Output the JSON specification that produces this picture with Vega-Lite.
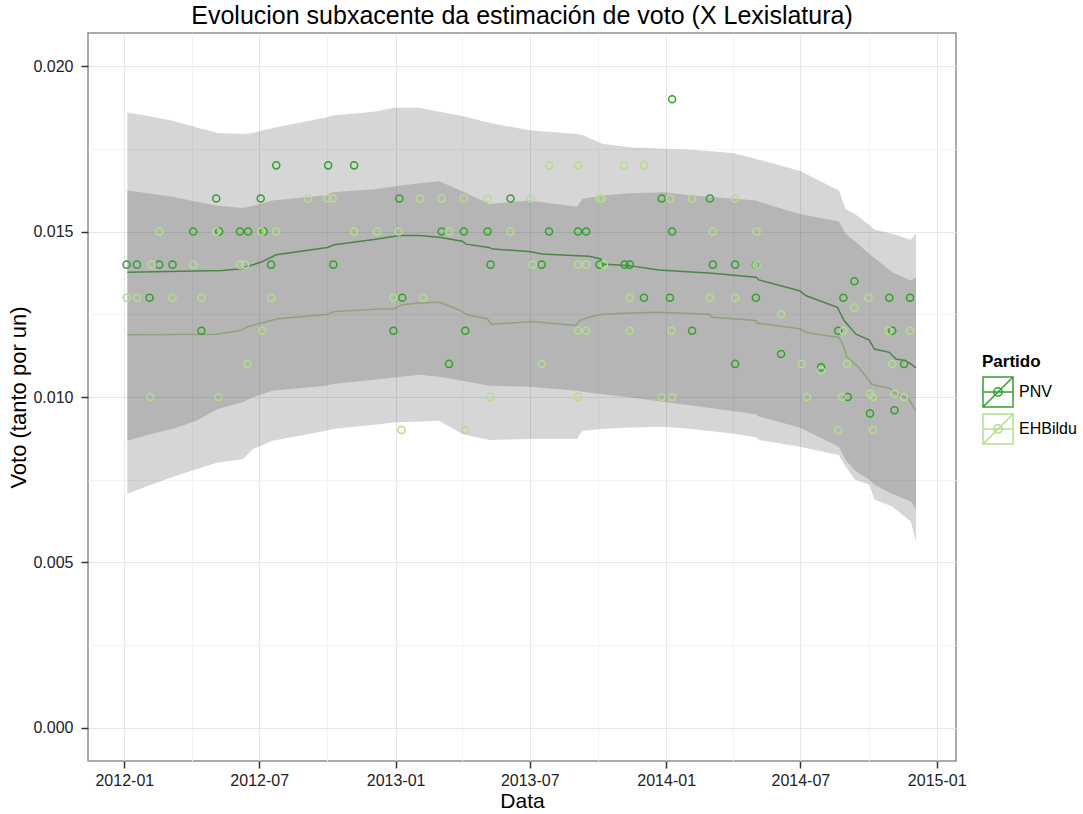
{
  "$schema": "https://vega.github.io/schema/vega-lite/v6.json",
  "width": 868,
  "height": 728,
  "autosize": {"type": "none"},
  "padding": {"left": 88, "top": 33, "right": 127, "bottom": 53},
  "background": "white",
  "config": {
    "font": "Liberation Sans",
    "view": {"stroke": "#8f8f8f", "strokeWidth": 1.5}
  },
  "title": {
    "text": "Evolucion subxacente da estimación de voto (X Lexislatura)",
    "fontSize": 25,
    "font": "Liberation Sans",
    "fontWeight": "normal",
    "color": "#000000",
    "anchor": "middle",
    "baseline": "alphabetic",
    "offset": -16
  },
  "datasets": {
    "pts": [
      {"Partido": "PNV", "date": "2012-01-04", "v": 0.014},
      {"Partido": "PNV", "date": "2012-01-18", "v": 0.014},
      {"Partido": "PNV", "date": "2012-02-04", "v": 0.013},
      {"Partido": "PNV", "date": "2012-02-17", "v": 0.014},
      {"Partido": "PNV", "date": "2012-03-06", "v": 0.014},
      {"Partido": "PNV", "date": "2012-04-03", "v": 0.015},
      {"Partido": "PNV", "date": "2012-04-14", "v": 0.012},
      {"Partido": "PNV", "date": "2012-05-04", "v": 0.016},
      {"Partido": "PNV", "date": "2012-05-08", "v": 0.015},
      {"Partido": "PNV", "date": "2012-06-05", "v": 0.015},
      {"Partido": "PNV", "date": "2012-06-16", "v": 0.015},
      {"Partido": "PNV", "date": "2012-07-03", "v": 0.016},
      {"Partido": "PNV", "date": "2012-07-07", "v": 0.015},
      {"Partido": "PNV", "date": "2012-07-17", "v": 0.014},
      {"Partido": "PNV", "date": "2012-07-24", "v": 0.017},
      {"Partido": "PNV", "date": "2012-10-02", "v": 0.017},
      {"Partido": "PNV", "date": "2012-10-09", "v": 0.014},
      {"Partido": "PNV", "date": "2012-11-06", "v": 0.017},
      {"Partido": "PNV", "date": "2012-12-29", "v": 0.012},
      {"Partido": "PNV", "date": "2013-01-06", "v": 0.016},
      {"Partido": "PNV", "date": "2013-01-10", "v": 0.013},
      {"Partido": "PNV", "date": "2013-03-04", "v": 0.015},
      {"Partido": "PNV", "date": "2013-03-14", "v": 0.011},
      {"Partido": "PNV", "date": "2013-04-03", "v": 0.015},
      {"Partido": "PNV", "date": "2013-04-05", "v": 0.012},
      {"Partido": "PNV", "date": "2013-05-05", "v": 0.015},
      {"Partido": "PNV", "date": "2013-05-09", "v": 0.014},
      {"Partido": "PNV", "date": "2013-06-05", "v": 0.016},
      {"Partido": "PNV", "date": "2013-07-17", "v": 0.014},
      {"Partido": "PNV", "date": "2013-07-27", "v": 0.015},
      {"Partido": "PNV", "date": "2013-09-04", "v": 0.015},
      {"Partido": "PNV", "date": "2013-09-15", "v": 0.015},
      {"Partido": "PNV", "date": "2013-10-03", "v": 0.014},
      {"Partido": "PNV", "date": "2013-11-06", "v": 0.014},
      {"Partido": "PNV", "date": "2013-11-13", "v": 0.014},
      {"Partido": "PNV", "date": "2013-12-02", "v": 0.013},
      {"Partido": "PNV", "date": "2013-12-26", "v": 0.016},
      {"Partido": "PNV", "date": "2014-01-06", "v": 0.013},
      {"Partido": "PNV", "date": "2014-01-09", "v": 0.015},
      {"Partido": "PNV", "date": "2014-01-09", "v": 0.019},
      {"Partido": "PNV", "date": "2014-02-05", "v": 0.012},
      {"Partido": "PNV", "date": "2014-03-01", "v": 0.016},
      {"Partido": "PNV", "date": "2014-03-05", "v": 0.014},
      {"Partido": "PNV", "date": "2014-04-04", "v": 0.014},
      {"Partido": "PNV", "date": "2014-04-04", "v": 0.011},
      {"Partido": "PNV", "date": "2014-05-02", "v": 0.013},
      {"Partido": "PNV", "date": "2014-05-02", "v": 0.014},
      {"Partido": "PNV", "date": "2014-06-05", "v": 0.0113},
      {"Partido": "PNV", "date": "2014-07-29", "v": 0.0109},
      {"Partido": "PNV", "date": "2014-08-21", "v": 0.012},
      {"Partido": "PNV", "date": "2014-08-28", "v": 0.013},
      {"Partido": "PNV", "date": "2014-09-03", "v": 0.010},
      {"Partido": "PNV", "date": "2014-09-12", "v": 0.0135},
      {"Partido": "PNV", "date": "2014-10-03", "v": 0.0095},
      {"Partido": "PNV", "date": "2014-10-29", "v": 0.013},
      {"Partido": "PNV", "date": "2014-11-02", "v": 0.012},
      {"Partido": "PNV", "date": "2014-11-05", "v": 0.0096},
      {"Partido": "PNV", "date": "2014-11-18", "v": 0.011},
      {"Partido": "PNV", "date": "2014-11-26", "v": 0.013},
      {"Partido": "EHBildu", "date": "2012-01-04", "v": 0.013},
      {"Partido": "EHBildu", "date": "2012-01-18", "v": 0.013},
      {"Partido": "EHBildu", "date": "2012-02-05", "v": 0.010},
      {"Partido": "EHBildu", "date": "2012-02-07", "v": 0.014},
      {"Partido": "EHBildu", "date": "2012-02-17", "v": 0.015},
      {"Partido": "EHBildu", "date": "2012-03-06", "v": 0.013},
      {"Partido": "EHBildu", "date": "2012-04-03", "v": 0.014},
      {"Partido": "EHBildu", "date": "2012-04-14", "v": 0.013},
      {"Partido": "EHBildu", "date": "2012-05-04", "v": 0.015},
      {"Partido": "EHBildu", "date": "2012-05-07", "v": 0.010},
      {"Partido": "EHBildu", "date": "2012-06-05", "v": 0.014},
      {"Partido": "EHBildu", "date": "2012-06-12", "v": 0.014},
      {"Partido": "EHBildu", "date": "2012-06-15", "v": 0.011},
      {"Partido": "EHBildu", "date": "2012-07-04", "v": 0.015},
      {"Partido": "EHBildu", "date": "2012-07-05", "v": 0.012},
      {"Partido": "EHBildu", "date": "2012-07-17", "v": 0.013},
      {"Partido": "EHBildu", "date": "2012-07-24", "v": 0.015},
      {"Partido": "EHBildu", "date": "2012-09-05", "v": 0.016},
      {"Partido": "EHBildu", "date": "2012-10-01", "v": 0.016},
      {"Partido": "EHBildu", "date": "2012-10-08", "v": 0.016},
      {"Partido": "EHBildu", "date": "2012-11-06", "v": 0.015},
      {"Partido": "EHBildu", "date": "2012-12-07", "v": 0.015},
      {"Partido": "EHBildu", "date": "2012-12-29", "v": 0.013},
      {"Partido": "EHBildu", "date": "2013-01-05", "v": 0.015},
      {"Partido": "EHBildu", "date": "2013-01-09", "v": 0.009},
      {"Partido": "EHBildu", "date": "2013-02-03", "v": 0.016},
      {"Partido": "EHBildu", "date": "2013-02-07", "v": 0.013},
      {"Partido": "EHBildu", "date": "2013-03-04", "v": 0.016},
      {"Partido": "EHBildu", "date": "2013-03-14", "v": 0.015},
      {"Partido": "EHBildu", "date": "2013-04-03", "v": 0.016},
      {"Partido": "EHBildu", "date": "2013-04-05", "v": 0.009},
      {"Partido": "EHBildu", "date": "2013-05-05", "v": 0.016},
      {"Partido": "EHBildu", "date": "2013-05-09", "v": 0.010},
      {"Partido": "EHBildu", "date": "2013-06-05", "v": 0.015},
      {"Partido": "EHBildu", "date": "2013-07-02", "v": 0.016},
      {"Partido": "EHBildu", "date": "2013-07-05", "v": 0.014},
      {"Partido": "EHBildu", "date": "2013-07-17", "v": 0.011},
      {"Partido": "EHBildu", "date": "2013-07-27", "v": 0.017},
      {"Partido": "EHBildu", "date": "2013-09-04", "v": 0.017},
      {"Partido": "EHBildu", "date": "2013-09-04", "v": 0.014},
      {"Partido": "EHBildu", "date": "2013-09-04", "v": 0.012},
      {"Partido": "EHBildu", "date": "2013-09-04", "v": 0.010},
      {"Partido": "EHBildu", "date": "2013-09-15", "v": 0.014},
      {"Partido": "EHBildu", "date": "2013-09-15", "v": 0.012},
      {"Partido": "EHBildu", "date": "2013-10-03", "v": 0.016},
      {"Partido": "EHBildu", "date": "2013-10-06", "v": 0.016},
      {"Partido": "EHBildu", "date": "2013-10-09", "v": 0.014},
      {"Partido": "EHBildu", "date": "2013-11-05", "v": 0.017},
      {"Partido": "EHBildu", "date": "2013-11-13", "v": 0.013},
      {"Partido": "EHBildu", "date": "2013-11-13", "v": 0.012},
      {"Partido": "EHBildu", "date": "2013-12-02", "v": 0.017},
      {"Partido": "EHBildu", "date": "2013-12-26", "v": 0.010},
      {"Partido": "EHBildu", "date": "2014-01-06", "v": 0.016},
      {"Partido": "EHBildu", "date": "2014-01-08", "v": 0.012},
      {"Partido": "EHBildu", "date": "2014-01-09", "v": 0.010},
      {"Partido": "EHBildu", "date": "2014-02-05", "v": 0.016},
      {"Partido": "EHBildu", "date": "2014-03-01", "v": 0.013},
      {"Partido": "EHBildu", "date": "2014-03-05", "v": 0.015},
      {"Partido": "EHBildu", "date": "2014-04-04", "v": 0.016},
      {"Partido": "EHBildu", "date": "2014-04-04", "v": 0.013},
      {"Partido": "EHBildu", "date": "2014-05-03", "v": 0.015},
      {"Partido": "EHBildu", "date": "2014-05-03", "v": 0.014},
      {"Partido": "EHBildu", "date": "2014-06-05", "v": 0.0125},
      {"Partido": "EHBildu", "date": "2014-07-03", "v": 0.011},
      {"Partido": "EHBildu", "date": "2014-07-10", "v": 0.010},
      {"Partido": "EHBildu", "date": "2014-07-29", "v": 0.0108},
      {"Partido": "EHBildu", "date": "2014-08-21", "v": 0.009},
      {"Partido": "EHBildu", "date": "2014-08-26", "v": 0.010},
      {"Partido": "EHBildu", "date": "2014-08-28", "v": 0.012},
      {"Partido": "EHBildu", "date": "2014-09-02", "v": 0.011},
      {"Partido": "EHBildu", "date": "2014-09-12", "v": 0.0127},
      {"Partido": "EHBildu", "date": "2014-10-01", "v": 0.013},
      {"Partido": "EHBildu", "date": "2014-10-03", "v": 0.0101},
      {"Partido": "EHBildu", "date": "2014-10-07", "v": 0.010},
      {"Partido": "EHBildu", "date": "2014-10-07", "v": 0.009},
      {"Partido": "EHBildu", "date": "2014-10-28", "v": 0.012},
      {"Partido": "EHBildu", "date": "2014-11-02", "v": 0.011},
      {"Partido": "EHBildu", "date": "2014-11-05", "v": 0.0101},
      {"Partido": "EHBildu", "date": "2014-11-18", "v": 0.010},
      {"Partido": "EHBildu", "date": "2014-11-26", "v": 0.012}
    ],
    "lines": [
      {"Partido": "PNV", "date": "2012-01-05", "v": 0.01377},
      {"Partido": "PNV", "date": "2012-05-12", "v": 0.01382},
      {"Partido": "PNV", "date": "2012-06-04", "v": 0.01387},
      {"Partido": "PNV", "date": "2012-07-03", "v": 0.01407},
      {"Partido": "PNV", "date": "2012-07-24", "v": 0.0143},
      {"Partido": "PNV", "date": "2012-10-01", "v": 0.01452},
      {"Partido": "PNV", "date": "2012-10-10", "v": 0.0146},
      {"Partido": "PNV", "date": "2012-12-03", "v": 0.01476},
      {"Partido": "PNV", "date": "2013-01-06", "v": 0.01488},
      {"Partido": "PNV", "date": "2013-02-02", "v": 0.01488},
      {"Partido": "PNV", "date": "2013-03-01", "v": 0.01483},
      {"Partido": "PNV", "date": "2013-04-01", "v": 0.01471},
      {"Partido": "PNV", "date": "2013-04-06", "v": 0.01462},
      {"Partido": "PNV", "date": "2013-05-07", "v": 0.01452},
      {"Partido": "PNV", "date": "2013-05-12", "v": 0.01447},
      {"Partido": "PNV", "date": "2013-06-30", "v": 0.0144},
      {"Partido": "PNV", "date": "2013-07-18", "v": 0.01432},
      {"Partido": "PNV", "date": "2013-09-03", "v": 0.01427},
      {"Partido": "PNV", "date": "2013-09-19", "v": 0.01425},
      {"Partido": "PNV", "date": "2013-10-05", "v": 0.01417},
      {"Partido": "PNV", "date": "2013-10-07", "v": 0.01402},
      {"Partido": "PNV", "date": "2013-11-12", "v": 0.01397},
      {"Partido": "PNV", "date": "2013-12-22", "v": 0.01384},
      {"Partido": "PNV", "date": "2014-03-04", "v": 0.01374},
      {"Partido": "PNV", "date": "2014-05-02", "v": 0.01362},
      {"Partido": "PNV", "date": "2014-05-06", "v": 0.01354},
      {"Partido": "PNV", "date": "2014-06-30", "v": 0.01321},
      {"Partido": "PNV", "date": "2014-07-09", "v": 0.01306},
      {"Partido": "PNV", "date": "2014-08-20", "v": 0.01271},
      {"Partido": "PNV", "date": "2014-08-29", "v": 0.01231},
      {"Partido": "PNV", "date": "2014-09-14", "v": 0.0119},
      {"Partido": "PNV", "date": "2014-10-02", "v": 0.01172},
      {"Partido": "PNV", "date": "2014-10-09", "v": 0.01145},
      {"Partido": "PNV", "date": "2014-10-29", "v": 0.01135},
      {"Partido": "PNV", "date": "2014-11-07", "v": 0.01115},
      {"Partido": "PNV", "date": "2014-11-20", "v": 0.0111},
      {"Partido": "PNV", "date": "2014-11-27", "v": 0.011},
      {"Partido": "PNV", "date": "2014-12-04", "v": 0.01088},
      {"Partido": "EHBildu", "date": "2012-01-05", "v": 0.01188},
      {"Partido": "EHBildu", "date": "2012-05-04", "v": 0.0119},
      {"Partido": "EHBildu", "date": "2012-06-04", "v": 0.012},
      {"Partido": "EHBildu", "date": "2012-06-16", "v": 0.01213},
      {"Partido": "EHBildu", "date": "2012-07-03", "v": 0.01223},
      {"Partido": "EHBildu", "date": "2012-07-24", "v": 0.01236},
      {"Partido": "EHBildu", "date": "2012-10-01", "v": 0.0125},
      {"Partido": "EHBildu", "date": "2012-10-10", "v": 0.01258},
      {"Partido": "EHBildu", "date": "2012-12-10", "v": 0.01266},
      {"Partido": "EHBildu", "date": "2012-12-30", "v": 0.01266},
      {"Partido": "EHBildu", "date": "2013-01-10", "v": 0.01279},
      {"Partido": "EHBildu", "date": "2013-02-02", "v": 0.01284},
      {"Partido": "EHBildu", "date": "2013-03-01", "v": 0.01286},
      {"Partido": "EHBildu", "date": "2013-03-30", "v": 0.01261},
      {"Partido": "EHBildu", "date": "2013-04-06", "v": 0.0125},
      {"Partido": "EHBildu", "date": "2013-05-05", "v": 0.01236},
      {"Partido": "EHBildu", "date": "2013-05-10", "v": 0.0122},
      {"Partido": "EHBildu", "date": "2013-07-05", "v": 0.01228},
      {"Partido": "EHBildu", "date": "2013-09-01", "v": 0.01216},
      {"Partido": "EHBildu", "date": "2013-09-06", "v": 0.01231},
      {"Partido": "EHBildu", "date": "2013-09-19", "v": 0.01241},
      {"Partido": "EHBildu", "date": "2013-10-07", "v": 0.0125},
      {"Partido": "EHBildu", "date": "2013-11-12", "v": 0.01254},
      {"Partido": "EHBildu", "date": "2013-12-22", "v": 0.01256},
      {"Partido": "EHBildu", "date": "2014-02-28", "v": 0.0125},
      {"Partido": "EHBildu", "date": "2014-03-04", "v": 0.01241},
      {"Partido": "EHBildu", "date": "2014-05-02", "v": 0.01231},
      {"Partido": "EHBildu", "date": "2014-05-04", "v": 0.01223},
      {"Partido": "EHBildu", "date": "2014-06-30", "v": 0.01206},
      {"Partido": "EHBildu", "date": "2014-07-09", "v": 0.01195},
      {"Partido": "EHBildu", "date": "2014-08-22", "v": 0.0118},
      {"Partido": "EHBildu", "date": "2014-08-27", "v": 0.0116},
      {"Partido": "EHBildu", "date": "2014-09-02", "v": 0.0112},
      {"Partido": "EHBildu", "date": "2014-09-18", "v": 0.01089},
      {"Partido": "EHBildu", "date": "2014-10-06", "v": 0.01037},
      {"Partido": "EHBildu", "date": "2014-10-29", "v": 0.01027},
      {"Partido": "EHBildu", "date": "2014-11-04", "v": 0.01014},
      {"Partido": "EHBildu", "date": "2014-11-24", "v": 0.00994},
      {"Partido": "EHBildu", "date": "2014-12-04", "v": 0.00959}
    ],
    "bands": [
      {"Partido": "PNV", "date": "2012-01-05", "lo": 0.00868, "hi": 0.0186},
      {"Partido": "PNV", "date": "2012-02-06", "lo": 0.00888, "hi": 0.01848},
      {"Partido": "PNV", "date": "2012-03-06", "lo": 0.00903, "hi": 0.01835},
      {"Partido": "PNV", "date": "2012-04-07", "lo": 0.00928, "hi": 0.01815},
      {"Partido": "PNV", "date": "2012-05-06", "lo": 0.00964, "hi": 0.01798},
      {"Partido": "PNV", "date": "2012-06-09", "lo": 0.00984, "hi": 0.01795},
      {"Partido": "PNV", "date": "2012-06-22", "lo": 0.00999, "hi": 0.01798},
      {"Partido": "PNV", "date": "2012-07-19", "lo": 0.01019, "hi": 0.01813},
      {"Partido": "PNV", "date": "2012-09-29", "lo": 0.01034, "hi": 0.01845},
      {"Partido": "PNV", "date": "2012-10-08", "lo": 0.01039, "hi": 0.01851},
      {"Partido": "PNV", "date": "2012-12-03", "lo": 0.01052, "hi": 0.01862},
      {"Partido": "PNV", "date": "2012-12-30", "lo": 0.01059, "hi": 0.01874},
      {"Partido": "PNV", "date": "2013-02-02", "lo": 0.01067, "hi": 0.01874},
      {"Partido": "PNV", "date": "2013-03-01", "lo": 0.01061, "hi": 0.01862},
      {"Partido": "PNV", "date": "2013-04-01", "lo": 0.01049, "hi": 0.01849},
      {"Partido": "PNV", "date": "2013-05-07", "lo": 0.01034, "hi": 0.01829},
      {"Partido": "PNV", "date": "2013-06-30", "lo": 0.01031, "hi": 0.01806},
      {"Partido": "PNV", "date": "2013-09-03", "lo": 0.01019, "hi": 0.01795},
      {"Partido": "PNV", "date": "2013-09-10", "lo": 0.01016, "hi": 0.01792},
      {"Partido": "PNV", "date": "2013-10-07", "lo": 0.01008, "hi": 0.01765},
      {"Partido": "PNV", "date": "2013-11-12", "lo": 0.00999, "hi": 0.01755},
      {"Partido": "PNV", "date": "2013-12-29", "lo": 0.00985, "hi": 0.0175},
      {"Partido": "PNV", "date": "2014-02-05", "lo": 0.00974, "hi": 0.01747},
      {"Partido": "PNV", "date": "2014-03-31", "lo": 0.00958, "hi": 0.01737},
      {"Partido": "PNV", "date": "2014-05-02", "lo": 0.00948, "hi": 0.0172},
      {"Partido": "PNV", "date": "2014-05-06", "lo": 0.00941, "hi": 0.01717},
      {"Partido": "PNV", "date": "2014-06-30", "lo": 0.00908, "hi": 0.01684},
      {"Partido": "PNV", "date": "2014-08-22", "lo": 0.0085, "hi": 0.01624},
      {"Partido": "PNV", "date": "2014-08-31", "lo": 0.0081, "hi": 0.01568},
      {"Partido": "PNV", "date": "2014-09-13", "lo": 0.00777, "hi": 0.01552},
      {"Partido": "PNV", "date": "2014-10-02", "lo": 0.0075, "hi": 0.0152},
      {"Partido": "PNV", "date": "2014-10-09", "lo": 0.00735, "hi": 0.01506},
      {"Partido": "PNV", "date": "2014-11-02", "lo": 0.00707, "hi": 0.01493},
      {"Partido": "PNV", "date": "2014-11-27", "lo": 0.00684, "hi": 0.01475},
      {"Partido": "PNV", "date": "2014-12-04", "lo": 0.00659, "hi": 0.01493},
      {"Partido": "EHBildu", "date": "2012-01-05", "lo": 0.00707, "hi": 0.01624},
      {"Partido": "EHBildu", "date": "2012-02-06", "lo": 0.00735, "hi": 0.01614},
      {"Partido": "EHBildu", "date": "2012-03-06", "lo": 0.00758, "hi": 0.01605},
      {"Partido": "EHBildu", "date": "2012-04-07", "lo": 0.00782, "hi": 0.0159},
      {"Partido": "EHBildu", "date": "2012-05-06", "lo": 0.00802, "hi": 0.01578},
      {"Partido": "EHBildu", "date": "2012-06-09", "lo": 0.00812, "hi": 0.01571},
      {"Partido": "EHBildu", "date": "2012-06-22", "lo": 0.00842, "hi": 0.01577},
      {"Partido": "EHBildu", "date": "2012-07-19", "lo": 0.00868, "hi": 0.01594},
      {"Partido": "EHBildu", "date": "2012-09-29", "lo": 0.00898, "hi": 0.0161},
      {"Partido": "EHBildu", "date": "2012-10-08", "lo": 0.00903, "hi": 0.01619},
      {"Partido": "EHBildu", "date": "2012-12-03", "lo": 0.00916, "hi": 0.01628},
      {"Partido": "EHBildu", "date": "2012-12-30", "lo": 0.00923, "hi": 0.01636},
      {"Partido": "EHBildu", "date": "2013-02-02", "lo": 0.00926, "hi": 0.01646},
      {"Partido": "EHBildu", "date": "2013-03-01", "lo": 0.00928, "hi": 0.01652},
      {"Partido": "EHBildu", "date": "2013-04-01", "lo": 0.00888, "hi": 0.01622},
      {"Partido": "EHBildu", "date": "2013-05-07", "lo": 0.0087, "hi": 0.01583},
      {"Partido": "EHBildu", "date": "2013-06-30", "lo": 0.00873, "hi": 0.01594},
      {"Partido": "EHBildu", "date": "2013-09-03", "lo": 0.00873, "hi": 0.01575},
      {"Partido": "EHBildu", "date": "2013-09-10", "lo": 0.00898, "hi": 0.01599},
      {"Partido": "EHBildu", "date": "2013-10-07", "lo": 0.00903, "hi": 0.01609},
      {"Partido": "EHBildu", "date": "2013-11-12", "lo": 0.00908, "hi": 0.01616},
      {"Partido": "EHBildu", "date": "2013-12-29", "lo": 0.0091, "hi": 0.01619},
      {"Partido": "EHBildu", "date": "2014-02-05", "lo": 0.00903, "hi": 0.01609},
      {"Partido": "EHBildu", "date": "2014-03-31", "lo": 0.0089, "hi": 0.016},
      {"Partido": "EHBildu", "date": "2014-05-02", "lo": 0.00878, "hi": 0.01594},
      {"Partido": "EHBildu", "date": "2014-05-06", "lo": 0.0087, "hi": 0.0159},
      {"Partido": "EHBildu", "date": "2014-06-30", "lo": 0.0085, "hi": 0.01553},
      {"Partido": "EHBildu", "date": "2014-08-22", "lo": 0.00825, "hi": 0.0153},
      {"Partido": "EHBildu", "date": "2014-08-31", "lo": 0.0079, "hi": 0.01493},
      {"Partido": "EHBildu", "date": "2014-09-13", "lo": 0.0075, "hi": 0.0147},
      {"Partido": "EHBildu", "date": "2014-10-02", "lo": 0.00735, "hi": 0.01432},
      {"Partido": "EHBildu", "date": "2014-10-09", "lo": 0.0069, "hi": 0.0142},
      {"Partido": "EHBildu", "date": "2014-11-02", "lo": 0.00669, "hi": 0.01377},
      {"Partido": "EHBildu", "date": "2014-11-27", "lo": 0.00624, "hi": 0.01352},
      {"Partido": "EHBildu", "date": "2014-12-04", "lo": 0.00563, "hi": 0.01362}
    ]
  },
  "layer": [
    {
      "data": {"name": "lines"},
      "mark": {"type": "line", "strokeWidth": 1.5, "opacity": 0.8},
      "encoding": {
        "x": {
          "field": "date", "type": "temporal",
          "scale": {"domain": [{"year": 2011, "month": 11, "date": 13}, {"year": 2015, "month": 1, "date": 27}], "nice": false},
          "axis": {
            "orient": "top", "title": null, "labels": false, "ticks": false, "domain": false,
            "minExtent": 0, "maxExtent": 0,
            "grid": true, "gridColor": "#f3f3f3", "gridWidth": 1,
            "values": [{"year": 2012, "month": 4, "date": 1}, {"year": 2012, "month": 10, "date": 1}, {"year": 2013, "month": 4, "date": 1}, {"year": 2013, "month": 10, "date": 1}, {"year": 2014, "month": 4, "date": 1}, {"year": 2014, "month": 10, "date": 1}]
          }
        },
        "y": {
          "field": "v", "type": "quantitative",
          "scale": {"domain": [-0.001, 0.021], "nice": false, "zero": false},
          "axis": {
            "orient": "right", "title": null, "labels": false, "ticks": false, "domain": false,
            "minExtent": 0, "maxExtent": 0,
            "grid": true, "gridColor": "#f3f3f3", "gridWidth": 1,
            "values": [0.0025, 0.0075, 0.0125, 0.0175]
          }
        },
        "color": {
          "field": "Partido", "type": "nominal",
          "scale": {"domain": ["PNV", "EHBildu"], "range": ["#33a02c", "#b2df8a"]},
          "legend": {
            "title": "Partido", "orient": "none", "legendX": 894, "legendY": 321,
            "symbolType": "M-1,-1H1V1H-1Z M-1,1L1,-1 M-1,0H1 M0.28,0A0.28,0.28,0,1,1,-0.28,0A0.28,0.28,0,1,1,0.28,0",
            "symbolSize": 900, "symbolFillColor": "#d2d2d2", "symbolStrokeWidth": 1.5, "symbolOpacity": 1,
            "labelFontSize": 16, "labelFont": "Liberation Sans", "labelColor": "#000000", "labelOffset": 5,
            "titleFontSize": 17, "titleFont": "Liberation Sans", "titleFontWeight": "bold", "titleColor": "#000000",
            "titlePadding": 5, "rowPadding": 1, "padding": 0
          }
        }
      }
    },
    {
      "layer": [
        {
          "data": {"name": "bands"},
          "mark": {"type": "area", "color": "#333333", "opacity": 0.2},
          "encoding": {
            "x": {"field": "date", "type": "temporal"},
            "y": {"field": "lo", "type": "quantitative"},
            "y2": {"field": "hi"},
            "detail": {"field": "Partido", "type": "nominal"}
          }
        },
        {
          "data": {"name": "pts"},
          "mark": {"type": "point", "filled": false, "size": 50, "strokeWidth": 1.5, "opacity": 1},
          "encoding": {
            "x": {
              "field": "date", "type": "temporal",
              "scale": {"domain": [{"year": 2011, "month": 11, "date": 13}, {"year": 2015, "month": 1, "date": 27}], "nice": false},
              "axis": {
                "orient": "bottom", "title": "Data", "format": "%Y-%m",
                "values": [{"year": 2012, "month": 1, "date": 1}, {"year": 2012, "month": 7, "date": 1}, {"year": 2013, "month": 1, "date": 1}, {"year": 2013, "month": 7, "date": 1}, {"year": 2014, "month": 1, "date": 1}, {"year": 2014, "month": 7, "date": 1}, {"year": 2015, "month": 1, "date": 1}],
                "grid": true, "gridColor": "#e6e6e6", "gridWidth": 1, "domain": false,
                "tickColor": "#333333", "tickSize": 7, "tickWidth": 1.5,
                "labelFontSize": 16, "labelFont": "Liberation Sans", "labelColor": "#222222", "labelPadding": 4,
                "titleFontSize": 21, "titleFont": "Liberation Sans", "titleFontWeight": "normal", "titleColor": "#000000", "titlePadding": 2
              }
            },
            "y": {
              "field": "v", "type": "quantitative",
              "scale": {"domain": [-0.001, 0.021], "nice": false, "zero": false},
              "axis": {
                "orient": "left", "title": "Voto (tanto por un)", "format": ".3f",
                "values": [0, 0.005, 0.01, 0.015, 0.02],
                "grid": true, "gridColor": "#e6e6e6", "gridWidth": 1, "domain": false,
                "tickColor": "#333333", "tickSize": 7, "tickWidth": 1.5,
                "labelFontSize": 16, "labelFont": "Liberation Sans", "labelColor": "#222222", "labelPadding": 8,
                "titleFontSize": 22, "titleFont": "Liberation Sans", "titleFontWeight": "normal", "titleColor": "#000000", "titlePadding": 2
              }
            },
            "color": {
              "field": "Partido", "type": "nominal",
              "scale": {"domain": ["PNV", "EHBildu"], "range": ["#33a02c", "#b2df8a"]},
              "legend": {
                "title": "Partido", "orient": "none", "legendX": 894, "legendY": 321,
                "symbolType": "M-1,-1H1V1H-1Z M-1,1L1,-1 M-1,0H1 M0.28,0A0.28,0.28,0,1,1,-0.28,0A0.28,0.28,0,1,1,0.28,0",
                "symbolSize": 900, "symbolFillColor": "#d2d2d2", "symbolStrokeWidth": 1.5, "symbolOpacity": 1,
                "labelFontSize": 16, "labelFont": "Liberation Sans", "labelColor": "#000000", "labelOffset": 5,
                "titleFontSize": 17, "titleFont": "Liberation Sans", "titleFontWeight": "bold", "titleColor": "#000000",
                "titlePadding": 5, "rowPadding": 1, "padding": 0
              }
            }
          }
        }
      ]
    }
  ],
  "resolve": {"axis": {"x": "independent", "y": "independent"}}
}
